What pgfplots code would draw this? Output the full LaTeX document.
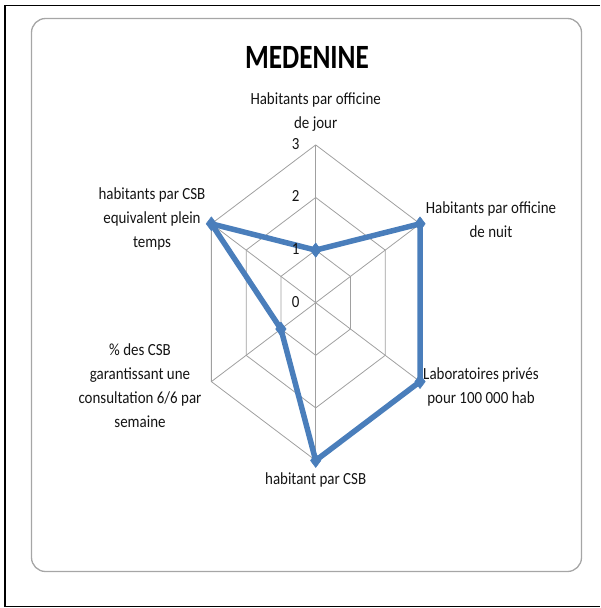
\documentclass[border=0pt]{standalone}
\usepackage{pgfplots}
\pgfplotsset{compat=1.18}
\usepackage{graphicx}
\usepackage{fontspec}
\setmainfont{Carlito}
\definecolor{serie}{HTML}{4A7EBB}
\definecolor{grille}{HTML}{A0A0A0}
\definecolor{texte}{HTML}{141414}
\newcommand{\sq}[1]{\scalebox{0.88}[1]{#1}}
\tikzset{lab/.style={font=\fontsize{17}{24}\selectfont, text=texte, align=center}}

\begin{document}
\begin{tikzpicture}
% page and frames
\useasboundingbox (0pt,0pt) rectangle (600pt,-608pt);
\draw[black, line width=1.6pt] (600pt,-5.5pt) -- (5pt,-5.5pt) -- (5pt,-606.5pt) -- (600pt,-606.5pt);
\draw[gray!70, line width=1.3pt, rounded corners=14pt] (31.5pt,-18.5pt) rectangle (581.5pt,-571.5pt);
\node[font=\bfseries\fontsize{34}{40}\selectfont, text=black] at (307pt,-57pt) {\scalebox{0.8}[1]{MEDENINE}};

\begin{axis}[
    at={(315.7pt,-302.7pt)}, anchor=center,
    x=40.15pt, y=52.6pt,
    xmin=-4, xmax=4, ymin=-4, ymax=4,
    hide axis,
    clip=false,
  ]

  % hexagonal grid
  \addplot[grille, line width=0.8pt, data cs=polar] coordinates {(90,1) (30,1) (-30,1) (-90,1) (-150,1) (150,1) (90,1)};
  \addplot[grille, line width=0.8pt, data cs=polar] coordinates {(90,2) (30,2) (-30,2) (-90,2) (-150,2) (150,2) (90,2)};
  \addplot[grille, line width=0.8pt, data cs=polar] coordinates {(90,3) (30,3) (-30,3) (-90,3) (-150,3) (150,3) (90,3)};
  % spokes
  \addplot[grille, line width=0.8pt, data cs=polar] coordinates {(90,3) (0,0) (-90,3)};
  \addplot[grille, line width=0.8pt, data cs=polar] coordinates {(30,3) (0,0) (-150,3)};
  \addplot[grille, line width=0.8pt, data cs=polar] coordinates {(-30,3) (0,0) (150,3)};

  % MEDENINE series
  \addplot[serie, line width=5.5pt, line join=round, data cs=polar,
    mark=diamond*, mark size=7pt, mark options={fill=serie, draw=serie, line width=0.5pt}]
    coordinates {(90,1) (30,3) (-30,3) (-90,3) (-150,1) (150,3) (90,1)};

  % radial scale
  \node[lab] at (axis cs:-0.5,3.02) {\sq{3}};
  \node[lab] at (axis cs:-0.5,2.02) {\sq{2}};
  \node[lab] at (axis cs:-0.5,1.02) {\sq{1}};
  \node[lab] at (axis cs:-0.5,0.02) {\sq{0}};

  % category labels
  \node[lab] at (axis cs:0,3.625) {\sq{\begin{tabular}{@{}c@{}}Habitants par officine\\de jour\end{tabular}}};
  \node[lab] at (axis cs:4.366,1.553) {\sq{\begin{tabular}{@{}c@{}}Habitants par officine\\de nuit\end{tabular}}};
  \node[lab] at (axis cs:4.116,-1.60) {\sq{\begin{tabular}{@{}c@{}}Laboratoires privés\\pour 100 000 hab\end{tabular}}};
  \node[lab] at (axis cs:0,-3.371) {\sq{habitant par CSB}};
  \node[lab] at (axis cs:-4.376,-1.60) {\sq{\begin{tabular}{@{}c@{}}\% des CSB\\garantissant une\\consultation 6/6 par\\semaine\end{tabular}}};
  \node[lab] at (axis cs:-4.078,1.59) {\sq{\begin{tabular}{@{}c@{}}habitants par CSB\\equivalent plein\\temps\end{tabular}}};
\end{axis}
\end{tikzpicture}
\end{document}
